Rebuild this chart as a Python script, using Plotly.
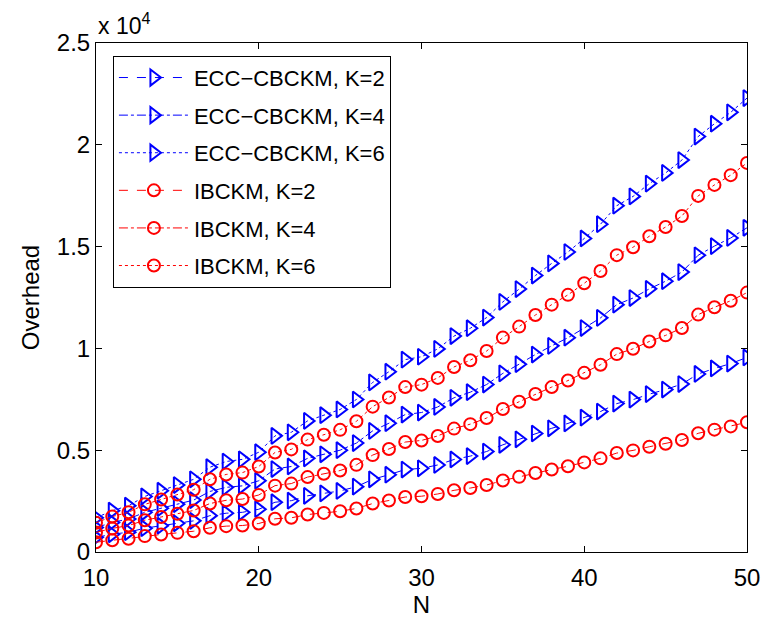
import plotly.graph_objects as go

# Number of nodes
N = list(range(10, 51))

# Overhead values for each scheme and K
ecc_k2 = [720, 870, 975, 1170, 1290, 1410, 1530, 1785, 1905, 1950, 2100, 2445, 2520, 2760, 2880, 3000,
          3210, 3570, 3795, 4050, 4110, 4275, 4545, 4710, 4935, 5265, 5535, 5820, 6075, 6315, 6600,
          6900, 7290, 7485, 7755, 7980, 8250, 8745, 9015, 9255, 9555]
ecc_k4 = [1200, 1450, 1625, 1950, 2150, 2350, 2550, 2975, 3175, 3250, 3500, 4075, 4200, 4600, 4800, 5000,
          5350, 5950, 6325, 6750, 6850, 7125, 7575, 7850, 8225, 8775, 9225, 9700, 10125, 10525, 11000,
          11500, 12150, 12475, 12925, 13300, 13750, 14575, 15025, 15425, 15925]
ecc_k6 = [1680, 2030, 2275, 2730, 3010, 3290, 3570, 4165, 4445, 4550, 4900, 5705, 5880, 6440, 6720, 7000,
          7490, 8330, 8855, 9450, 9590, 9975, 10605, 10990, 11515, 12285, 12915, 13580, 14175, 14735, 15400,
          16100, 17010, 17465, 18095, 18620, 19250, 20405, 21035, 21595, 22295]
ib_k2 = [480, 580, 650, 780, 860, 940, 1020, 1190, 1270, 1300, 1400, 1630, 1680, 1840, 1920, 2000,
         2140, 2380, 2530, 2700, 2740, 2850, 3030, 3140, 3290, 3510, 3690, 3880, 4050, 4210, 4400,
         4600, 4860, 4990, 5170, 5320, 5500, 5830, 6010, 6170, 6370]
ib_k4 = [960, 1160, 1300, 1560, 1720, 1880, 2040, 2380, 2540, 2600, 2800, 3260, 3360, 3680, 3840, 4000,
         4280, 4760, 5060, 5400, 5480, 5700, 6060, 6280, 6580, 7020, 7380, 7760, 8100, 8420, 8800,
         9200, 9720, 9980, 10340, 10640, 11000, 11660, 12020, 12340, 12740]
ib_k6 = [1440, 1740, 1950, 2340, 2580, 2820, 3060, 3570, 3810, 3900, 4200, 4890, 5040, 5520, 5760, 6000,
         6420, 7140, 7590, 8100, 8220, 8550, 9090, 9420, 9870, 10530, 11070, 11640, 12150, 12630, 13200,
         13800, 14580, 14970, 15510, 15960, 16500, 17490, 18030, 18510, 19110]

x_ticks = [10, 20, 30, 40, 50]
y_ticks = [0, 5000, 10000, 15000, 20000, 25000]
y_tick_text = ["0", "0.5", "1", "1.5", "2", "2.5"]

BLUE = "rgb(0,0,255)"
RED = "rgb(255,0,0)"

series = [
    ("ECC\u2212CBCKM, K=2", ecc_k2, BLUE, "dash", "triangle-right-open", 14),
    ("ECC\u2212CBCKM, K=4", ecc_k4, BLUE, "dashdot", "triangle-right-open", 14),
    ("ECC\u2212CBCKM, K=6", ecc_k6, BLUE, "dot", "triangle-right-open", 14),
    ("IBCKM, K=2", ib_k2, RED, "dash", "circle-open", 12),
    ("IBCKM, K=4", ib_k4, RED, "dashdot", "circle-open", 12),
    ("IBCKM, K=6", ib_k6, RED, "dot", "circle-open", 12),
]

fig = go.Figure()
for i, (name, vals, color, dash, symbol, msize) in enumerate(series):
    fig.add_trace(go.Scatter(
        x=N, y=vals, name=name, mode="lines+markers",
        legendgroup=f"g{i}",
        line=dict(color=color, width=1, dash=dash),
        marker=dict(symbol=symbol, size=msize, color=color, line=dict(color=color, width=2)),
    ))

FONT = "Liberation Sans, Arial, sans-serif"
axis_font = dict(family=FONT, size=24, color="black")

fig.update_layout(
    width=772, height=623,
    margin=dict(l=96, r=20, t=43, b=70.5, pad=0),
    paper_bgcolor="white", plot_bgcolor="white",
    font=axis_font,
    showlegend=True,
    legend=dict(
        x=0.026, y=0.975, xanchor="left", yanchor="top",
        bgcolor="white", bordercolor="black", borderwidth=1,
        font=dict(family=FONT, size=22, color="black"),
        tracegroupgap=6, itemwidth=70,
    ),
    xaxis=dict(
        range=[10, 50], tickvals=x_ticks, ticks="inside", ticklen=6, tickcolor="black",
        showline=True, linecolor="black", linewidth=1, mirror="ticks",
        showgrid=False, zeroline=False, tickfont=axis_font, ticklabelstandoff=4,
        title=dict(text="N", font=axis_font, standoff=2),
    ),
    yaxis=dict(
        range=[0, 25000], tickvals=y_ticks, ticktext=y_tick_text,
        ticks="inside", ticklen=6, tickcolor="black",
        showline=True, linecolor="black", linewidth=1, mirror="ticks",
        showgrid=False, zeroline=False, tickfont=axis_font,
        title=dict(text="Overhead", font=axis_font, standoff=10),
    ),
    annotations=[dict(
        text="x 10<sup>4</sup>", xref="paper", yref="paper", x=0, y=1,
        xanchor="left", yanchor="bottom", showarrow=False, yshift=2,
        font=dict(family=FONT, size=23, color="black"),
    )],
)

fig.write_html("out.html")
